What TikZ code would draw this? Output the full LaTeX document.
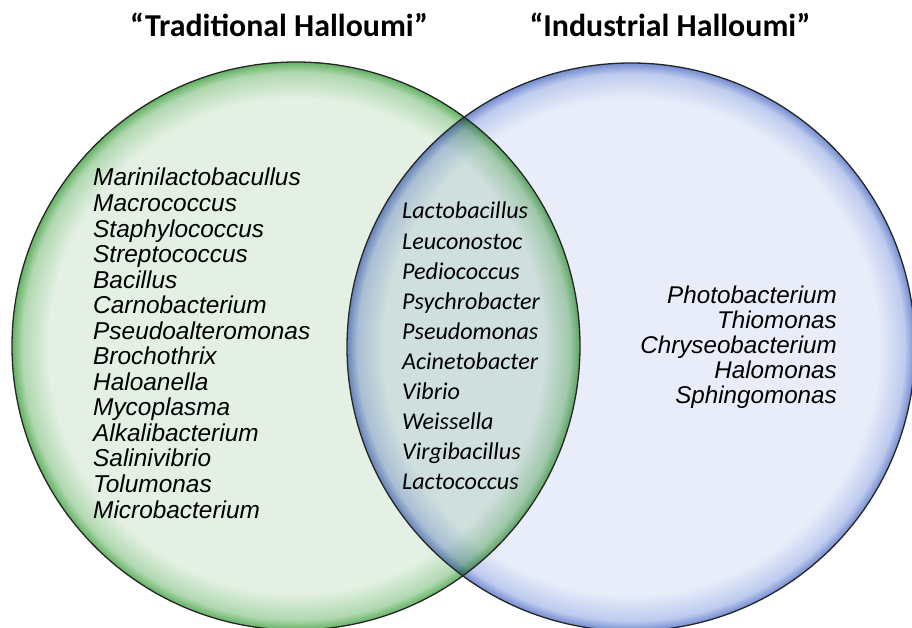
\documentclass[tikz,border=0pt]{standalone}
\usepackage{fontspec}
\setmainfont{Liberation Sans}
\newfontfamily\calibri{Carlito}
\definecolor{gIn}{RGB}{227,240,227}
\definecolor{gMid}{RGB}{176,216,176}
\definecolor{gRim}{RGB}{100,178,100}
\definecolor{bIn}{RGB}{233,237,249}
\definecolor{bMid}{RGB}{190,203,238}
\definecolor{bRim}{RGB}{115,140,208}
\pgfdeclareradialshading{greenball}{\pgfpoint{0bp}{0bp}}{color(0bp)=(gIn); color(21.8bp)=(gIn); color(24.1bp)=(gMid); color(25bp)=(gRim); color(50bp)=(gRim)}
\pgfdeclareradialshading{blueball}{\pgfpoint{0bp}{0bp}}{color(0bp)=(bIn); color(21.8bp)=(bIn); color(24.1bp)=(bMid); color(25bp)=(bRim); color(50bp)=(bRim)}
\tikzset{
  outline/.style={draw=black!85, line width=1.3bp},
  lefttxt/.style={anchor=base west, inner sep=0pt, font=\fontsize{24.5}{25}\selectfont\itshape},
  midtxt/.style={anchor=base west, inner sep=0pt, font=\calibri\fontsize{24.2}{25}\selectfont\itshape},
  righttxt/.style={anchor=base east, inner sep=0pt, font=\fontsize{24.3}{25}\selectfont\itshape},
  titletxt/.style={anchor=base, inner sep=0pt, font=\calibri\fontsize{32}{34}\selectfont\bfseries},
}
\begin{document}
\begin{tikzpicture}[x=1bp,y=-1bp]
\useasboundingbox (0,0) rectangle (912,628);
\fill[white] (0,0) rectangle (912,628);
\coordinate (lc) at (296,346);
\coordinate (rc) at (631,347);
\shade[shading=greenball] (lc) circle[radius=284bp];
\shade[shading=blueball, blend mode=multiply] (rc) circle[radius=284bp];
\draw[outline] (lc) circle[radius=284bp];
\draw[outline] (rc) circle[radius=284bp];
\node[titletxt] (t1) at (279,37) {“Traditional Halloumi”};
\node[titletxt] (t2) at (670,37) {“Industrial Halloumi”};
\foreach \t [count=\i from 0] in {Marinilactobacullus,Macrococcus,Staphylococcus,Streptococcus,Bacillus,Carnobacterium,Pseudoalteromonas,Brochothrix,Haloanella,Mycoplasma,Alkalibacterium,Salinivibrio,Tolumonas,Microbacterium}
  \node[lefttxt] (L\i) at (93,186+25.54*\i) {\t};
\foreach \t [count=\i from 0] in {Lactobacillus,Leuconostoc,Pediococcus,Psychrobacter,Pseudomonas,Acinetobacter,Vibrio,Weissella,Virgibacillus,Lactococcus}
  \node[midtxt] (M\i) at (402,219+30.1*\i) {\t};
\foreach \t [count=\i from 0] in {Photobacterium,Thiomonas,Chryseobacterium,Halomonas,Sphingomonas}
  \node[righttxt] (R\i) at (837,303+25*\i) {\t};
\end{tikzpicture}
\end{document}
